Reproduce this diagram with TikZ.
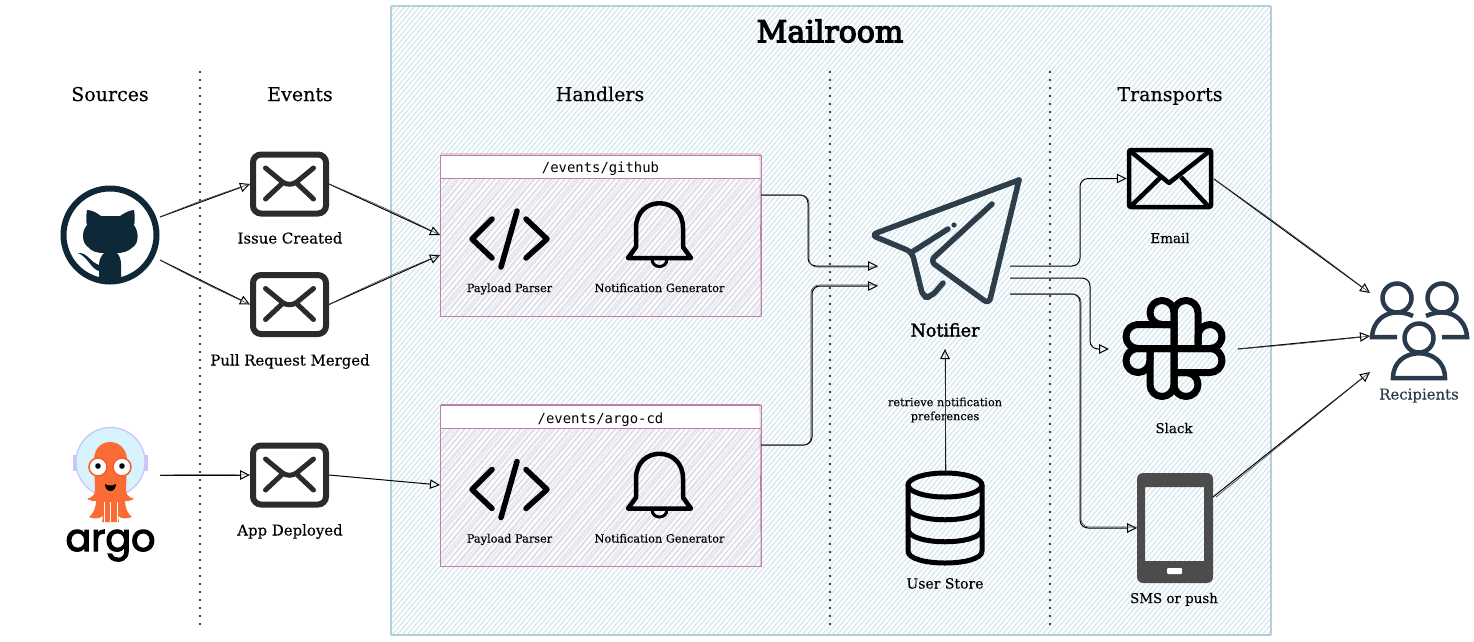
\documentclass[tikz,border=0pt]{standalone}
\usepackage{fontspec}
\setmainfont[FakeBold=.25]{DejaVu Serif}
\setmonofont{DejaVu Sans Mono}
\newfontfamily\argofont[FakeBold=3]{Poppins}
\newfontfamily\medfont[FakeBold=2]{DejaVu Serif}
\newfontfamily\titlefont[FakeBold=4]{DejaVu Serif}
\usetikzlibrary{arrows.meta}
\definecolor{framecol}{HTML}{B4CFDA}
\definecolor{hatchcol}{HTML}{D7E7F0}
\definecolor{pinkcol}{HTML}{C07FAA}
\definecolor{pinkhatch}{HTML}{EAD6E2}
\definecolor{envcol}{HTML}{2B2B2B}
\definecolor{ghubcol}{HTML}{0F2838}
\definecolor{planecol}{HTML}{2D3E4A}
\definecolor{peoplecol}{HTML}{2A3A4D}
\definecolor{argocol}{HTML}{F96C35}
\tikzset{
  head/.style={font=\fontsize{19}{22}\selectfont,text height=14pt,text depth=0pt},
  lbl/.style={font=\fontsize{14.9}{17}\selectfont,text height=11pt,text depth=0pt},
  small/.style={font=\fontsize{13.4}{15}\selectfont,text height=10pt,text depth=0pt},
  tiny/.style={font=\fontsize{11.3}{14}\selectfont,text height=8pt,text depth=0pt},
  route/.style={font=\ttfamily\fontsize{13.9}{16}\selectfont,text height=11pt,text depth=0pt},
  hatchline/.style={hatchcol,line width=1.3pt},
  divider/.style={line width=2.4pt,dash pattern=on 0pt off 8pt,line cap=round},
  wire/.style={draw,line width=1pt,-{Triangle[open,length=10pt,width=9.5pt]}},
  ghost/.style={draw,line width=.6pt,black!75},
  elbow/.style={rounded corners=8pt},
  envbox/.style={draw=envcol,line width=6pt,rounded corners=8pt,minimum width=73pt,minimum height=59pt,outer sep=3pt,inner sep=0pt},
  handlerbox/.style={draw=pinkcol,line width=1pt,minimum width=321pt,minimum height=161pt,outer sep=0pt,inner sep=0pt},
  icon/.style={line width=5.5pt,line cap=round,line join=round},
}
\begin{document}
\begin{tikzpicture}[x=1pt,y=-1pt]
  \useasboundingbox (0,0) rectangle (1474,641);

  % Mailroom frame
  \begin{scope}
    \clip (391,5) rectangle (1270,635);
    \foreach \i in {0,...,285}
      \draw[hatchline] ({-138+\i*5},635) -- ++(529,-630);
  \end{scope}
  \draw[framecol,line width=.8pt] (391,5) rectangle (1270,635);
  \draw[framecol,line width=.5pt] (390,6) rectangle (1271,634);
  \node[font=\titlefont\fontsize{30}{32}\selectfont] (mailroom) at (830,31) {Mailroom};

  % Column headers and dividers
  \node[head] (sources) at (110,94) {Sources};
  \node[head] (events) at (300,94) {Events};
  \node[head] (handlers) at (600,94) {Handlers};
  \node[head] (transports) at (1170,94) {Transports};
  \draw[divider] (200,72) -- (200,625);
  \draw[divider] (830,72) -- (830,625);
  \draw[divider] (1050,72) -- (1050,625);

  % Github logo
  \node[circle,draw=ghubcol,line width=6pt,minimum size=93pt,inner sep=0pt,outer sep=3pt] (ghub) at (110,235) {};
  \fill[ghubcol] (87,210) .. controls (93,210) and (98,214) .. (101,216) -- (120,216)
    .. controls (123,214) and (129,210) .. (134,210) .. controls (135,216) and (135,222) .. (134,225)
    .. controls (139,232) and (139,243) .. (133,247) .. controls (128,252) and (122,253) .. (117,253)
    .. controls (120,256) and (121,260) .. (121,265) -- (121,280) -- (99,280) -- (99,265)
    .. controls (99,260) and (101,256) .. (104,253) .. controls (98,253) and (92,252) .. (88,247)
    .. controls (82,243) and (81,232) .. (87,225) .. controls (86,222) and (86,216) .. (87,210) -- cycle;
  \fill[ghubcol] (78,253) .. controls (87,252) and (90,262) .. (99,265) -- (99,271)
    .. controls (91,269) and (88,257) .. (78,253) -- cycle;
  \coordinate (ghubup) at (160,217);
  \coordinate (ghubdown) at (160,260);

  % Argo logo
  \fill[blue!22] (73,455) rectangle (78,471);
  \fill[blue!22] (143,455) rectangle (148,471);
  \node[circle,draw=blue!22,fill=cyan!15,line width=1.3pt,minimum size=69pt,inner sep=0pt] (argo) at (110.5,462) {};
  \fill[argocol] (110,442) .. controls (120,442) and (127,450) .. (127,460) -- (126,490)
    .. controls (126,494) and (128,497) .. (134,499) .. controls (130,501) and (127,501) .. (125,501)
    .. controls (125,508) and (128,514) .. (132,517) .. controls (126,519) and (122,519) .. (118,516)
    -- (119,522) -- (102,522) -- (103,516) .. controls (99,519) and (94,519) .. (89,517)
    .. controls (93,514) and (96,508) .. (96,501) .. controls (94,501) and (91,501) .. (87,499)
    .. controls (93,497) and (95,494) .. (95,490) -- (94,460) .. controls (94,450) and (100,442) .. (110,442) -- cycle;
  \foreach \ex in {98,122} {
    \fill[white,draw=argocol!85!red,line width=1.5pt] (\ex,467) circle (9);
    \fill[black] (\ex,466) circle (2.8);
  }
  \fill[black] (105,484) .. controls (108,486) and (113,486) .. (116,484) .. controls (116,489) and (113,491) .. (110.5,491) .. controls (108,491) and (105,489) .. (105,484) -- cycle;
  \foreach \tx in {104,110.5,117}
    \draw[white,line width=.5pt] (\tx,502) -- (\tx,522);
  \node[font=\argofont\fontsize{38}{40}\selectfont,anchor=base,inner sep=0pt] (argoword) at (110.5,551) {argo};
  \coordinate (argoout) at (160,475);

  % Event envelopes
  \foreach \nm/\ev/\txt/\txty in {issue/184/Issue Created/238,pull/304.5/Pull Request Merged/360,app/475/App Deployed/530} {
    \node[envbox] (\nm) at (289.5,\ev) {};
    \begin{scope}[shift={(289.5,\ev)}]
      \draw[envcol,line width=5pt,line cap=round] (-24,-16) -- (-7,-2) .. controls (-3,1) and (3,1) .. (7,-2) -- (24,-16);
      \draw[envcol,line width=5pt,line cap=round] (-24,15) -- (-8,0);
      \draw[envcol,line width=5pt,line cap=round] (24,15) -- (8,0);
    \end{scope}
    \node[lbl] (\nm label) at (290,\txty) {\txt};
  }

  % Handlers
  \foreach \nm/\boxtop/\routename in {ghandler/155/github,ahandler/405.5/argo-cd} {
    \begin{scope}
      \clip (440,\boxtop) rectangle ++(321,161);
      \foreach \i in {0,...,85}
        \draw[pinkhatch,line width=1pt] ({305+\i*6.3},\boxtop+161) -- ++(135,-161);
    \end{scope}
    \fill[white] (440,\boxtop) rectangle ++(321,23);
    \node[handlerbox,anchor=north west] (\nm) at (440,\boxtop) {};
    \draw[pinkcol,line width=.6pt] (441,\boxtop-1) -- ++(319,0) -- ++(1,161);
    \draw[pinkcol,line width=.9pt] (440,\boxtop+23) -- ++(321,0);
    \node[route] (\nm route) at (600.5,\boxtop+12) {/events/\routename};
    \begin{scope}[shift={(0,\boxtop-155)}]
      % code mark
      \draw[icon] (492,219) -- (472,239) -- (492,258);
      \draw[icon] (517,211) -- (501,267);
      \draw[icon] (526,219) -- (547,239) -- (526,258);
      % bell mark
      \draw[line width=4.5pt,line join=round] (628,258) -- (636,247) -- (636,228) .. controls (636,195) and (683,195) .. (683,228) -- (683,247) -- (691,258) -- cycle;
      \draw[line width=3pt] (652,259) .. controls (652,269) and (667,269) .. (667,259);
      \node[tiny] (\nm parser) at (509.5,288) {Payload Parser};
      \node[tiny] (\nm notif) at (659.5,288) {Notification Generator};
    \end{scope}
  }
  \coordinate (ghin) at (440,235);
  \coordinate (ghinb) at (440,255);
  \coordinate (ghout) at (761,195);
  \coordinate (argoin) at (440,485);
  \coordinate (argoexit) at (761,445);

  % Notifier
  \begin{scope}[planecol,line width=5.5pt,line cap=round,line join=round,rounded corners=6pt]
    \draw (1019,180) -- (871,235) -- (912,252) -- (923,297) -- (931,297) -- (943,283);
    \draw (992,204) -- (930,261) -- (989,304) -- (1019,180);
    \draw (948,229) [sharp corners] -- (912,252);
  \end{scope}
  \fill[planecol] (954,225) circle (2.6);
  \node[font=\medfont\fontsize{17.5}{20}\selectfont,text height=13pt,text depth=0pt] (notifier) at (945,330) {Notifier};
  \coordinate (notifa) at (878,266);
  \coordinate (notifb) at (878,286);
  \coordinate (notifc) at (945,349);
  \coordinate (turna) at (808,230);
  \coordinate (turnb) at (812,350);
  \coordinate (mailout) at (1010,266);
  \coordinate (slackout) at (1010,278);
  \coordinate (phoneout) at (1010,294);

  % User store
  \node[inner sep=0pt,minimum width=77pt,minimum height=91pt,outer sep=0pt] (store) at (945,518) {};
  \begin{scope}[line width=5pt]
    \draw (945,485) ellipse (37 and 12);
    \draw (908,485) -- (908,551) .. controls (908,567) and (982,567) .. (982,551) -- (982,485);
    \draw (908,507) .. controls (908,524) and (982,524) .. (982,507);
    \draw (908,529) .. controls (908,546) and (982,546) .. (982,529);
  \end{scope}
  \node[lbl,font=\fontsize{14}{16}\selectfont] (storelabel) at (945,583) {User Store};
  \node[font=\fontsize{11.3}{14}\selectfont,align=center] (prefs) at (945,410) {retrieve notification\\preferences};

  % Email
  \node[draw,line width=4.5pt,rounded corners=2pt,minimum width=82pt,minimum height=57pt,inner sep=0pt,outer sep=2.25pt] (email) at (1170,178.5) {};
  \draw[line width=4.5pt,line join=round] (1129,150) -- (1169,183) -- (1211,150);
  \draw[line width=4.5pt] (1130,207) -- (1161,177);
  \draw[line width=4.5pt] (1209,207) -- (1181,177);
  \node[small] (emaillabel) at (1170,238) {Email};

  % Slack
  \node[inner sep=0pt,minimum size=104pt,outer sep=0pt] (slack) at (1174,349) {};
  \foreach \ang in {0,90,180,270} {
    \begin{scope}[shift={(1174,348.5)},rotate=\ang,line width=7pt,line join=round]
      \draw[rounded corners=12pt] (0,0) -- (0,-48) -- (24,-48) [sharp corners] -- (24,0) -- cycle;
      \draw (0,-24) [rounded corners=12pt] -- (-24,-24) -- (-24,-48) -- (0,-48) -- (0,-24);
    \end{scope}
  }
  \node[small] (slacklabel) at (1174,428) {Slack};

  % Phone
  \fill[black!70,even odd rule,rounded corners=6pt] (1137,473) rectangle (1213,583)
    [sharp corners] (1145,487) rectangle (1204,561);
  \fill[white,rounded corners=1pt] (1167,568) rectangle (1182,574);
  \node[inner sep=0pt,minimum width=76pt,minimum height=110pt,outer sep=0pt] (phone) at (1175,528) {};
  \node[small] (phonelabel) at (1174,598) {SMS or push};
  \coordinate (phoneexit) at (1213,497);

  % Recipients
  \begin{scope}[peoplecol,line width=4.5pt]
    \draw (1397,298) circle (14.5);
    \draw (1442,298) circle (14.5);
    \draw (1419,338) circle (14.5);
    \draw (1413,316) .. controls (1391,306) and (1373,318) .. (1372,337) -- (1397,337);
    \draw (1426,316) .. controls (1448,306) and (1466,318) .. (1467,337) -- (1442,337);
    \draw (1393,378) .. controls (1393,345) and (1445,345) .. (1445,378) -- cycle;
  \end{scope}
  \node[lbl,text=peoplecol] (recipients) at (1419,394) {Recipients};
  \coordinate (peoplea) at (1370,293);
  \coordinate (peopleb) at (1370,336);
  \coordinate (peoplec) at (1370,372);

  % Sources to events
  \draw[wire] (ghubup) -- (issue.west);
  \draw[ghost] (ghubup) to[bend left=2] (issue.west);
  \draw[wire] (ghubdown) -- (pull.west);
  \draw[ghost] (ghubdown) to[bend right=2] (pull.west);
  \draw[wire] (argoout) -- (app.west);
  \draw[ghost] (argoout) to[bend left=1] (app.west);

  % Events to handlers
  \draw[wire] (issue.east) -- (ghin);
  \draw[ghost] (issue.east) to[bend left=2] (ghin);
  \draw[wire] (pull.east) -- (ghinb);
  \draw[ghost] (pull.east) to[bend left=2] (ghinb);
  \draw[wire] (app.east) -- (argoin);

  % Handlers to notifier
  \draw[wire,elbow] (ghout) -| (turna) |- (notifa);
  \draw[ghost,elbow] (ghout) -| ([xshift=1pt]turna) |- ([yshift=-1pt]notifa);
  \draw[wire,elbow] (argoexit) -| (turnb) |- (notifb);
  \draw[ghost,elbow] (argoexit) -| ([xshift=-1pt]turnb) |- ([yshift=1pt]notifb);
  \draw[wire] (store.north) -- (notifc);
  \draw[ghost] ([xshift=1pt]store.north) -- (notifc);

  % Notifier to transports
  \coordinate (turnc) at (1080,220);
  \coordinate (turnd) at (1090,310);
  \coordinate (turne) at (1080,400);
  \draw[wire,elbow] (mailout) -| (turnc) |- (email.west);
  \draw[wire,elbow] (slackout) -| (turnd) |- ([xshift=-13pt]slack.west);
  \draw[wire,elbow] (phoneout) -| (turne) |- (phone.west);
  \draw[ghost,elbow] (phoneout) -| ([xshift=1pt]turne) |- ([yshift=1pt]phone.west);

  % Transports to recipients
  \coordinate (emailexit) at (1214,179);
  \coordinate (slackexit) at (1238,349);
  \draw[wire] (emailexit) -- (peoplea);
  \draw[ghost] (emailexit) to[bend left=1] (peoplea);
  \draw[wire] (slackexit) -- (peopleb);
  \draw[ghost] (slackexit) to[bend right=1] (peopleb);
  \draw[wire] (phoneexit) -- (peoplec);
  \draw[ghost] ([xshift=3pt]phoneexit) -- (peoplec);
\end{tikzpicture}
\end{document}
